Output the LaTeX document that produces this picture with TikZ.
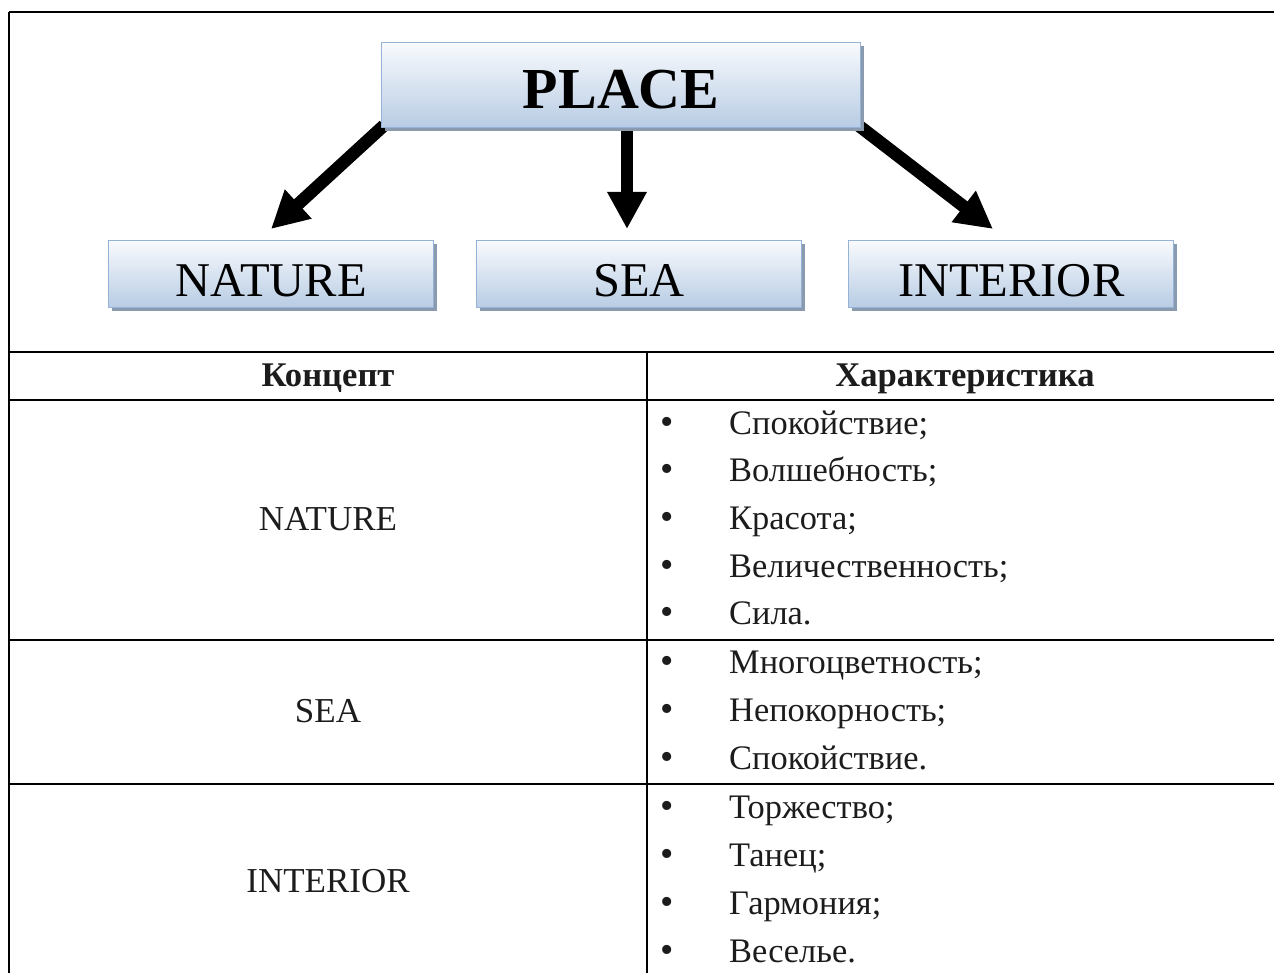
\documentclass[tikz,border=0pt]{standalone}
\usepackage{fontspec}
\setmainfont{Liberation Serif}
\usetikzlibrary{arrows.meta,shadows,calc,backgrounds}
\definecolor{boxborder}{HTML}{95B3D7}
\definecolor{boxtop}{HTML}{F8FAFD}
\definecolor{boxbot}{HTML}{B8CCE4}
\definecolor{shadowc}{HTML}{8A9BB0}
\definecolor{txt}{HTML}{1C1C1C}
\tikzset{
  conceptbox/.style={draw=boxborder, line width=1.4pt, top color=boxtop, bottom color=boxbot,
    inner sep=0pt, anchor=north west, align=center,
    drop shadow={shadow xshift=3pt, shadow yshift=-3pt, fill=shadowc, opacity=1}},
  smallbox/.style={conceptbox, minimum width=325pt, text height=56pt, text depth=11pt,
    font=\fontsize{48.5}{50}\selectfont},
  bigarrow/.style={line width=12.6pt, -{Triangle[length=37pt,width=37pt]}},
  tline/.style={line width=2.9pt},
  celltext/.style={inner sep=0pt, anchor=base, text=txt, font=\fontsize{35}{40}\selectfont},
  headtext/.style={inner sep=0pt, anchor=base, text=txt, font=\fontsize{34.6}{40}\selectfont\bfseries},
  bullet/.style={inner sep=0pt, anchor=base, text=txt, font=\fontsize{38}{40}\selectfont},
  itemtext/.style={inner sep=0pt, anchor=base west, text=txt, font=\fontsize{34.4}{40}\selectfont},
}
\begin{document}
\begin{tikzpicture}[x=1pt,y=-1pt]
\useasboundingbox (0,0) rectangle (1274,973);
% table and frame
\draw[tline] (9,12) -- (1280,12);
\draw[tline] (9,12) -- (9,980);
\draw[tline] (9,352) -- (1280,352);
\draw[tline] (9,400) -- (1280,400);
\draw[tline] (9,640) -- (1280,640);
\draw[tline] (9,784) -- (1280,784);
\draw[tline] (647,352) -- (647,980);
% arrow tips
\coordinate (tl) at (271,229);
\coordinate (tm) at (627,229);
\coordinate (tr) at (993,229);
% boxes
\path (381,42) node[conceptbox, minimum width=479pt, text height=66pt, text depth=19pt,
  font=\fontsize{58}{60}\selectfont\bfseries] (place) {PLACE};
\begin{scope}[on background layer]
\draw[bigarrow] ($(place.south west)+(3,-3)$) -- (tl);
\draw[bigarrow] (tm |- place.south) -- (tm);
\draw[bigarrow] ($(place.south east)+(-3,-3)$) -- (tr);
\end{scope}
\path (108,240) node[smallbox] (nature) {NATURE};
\path (476,240) node[smallbox] (sea) {SEA};
\path (848,240) node[smallbox] (interior) {INTERIOR};
% header
\node[headtext] (h1) at (328,387) {Концепт};
\node[headtext] (h2) at (965,387) {Характеристика};
% concepts
\node[celltext] (c1) at (328,530) {NATURE};
\node[celltext] (c2) at (328,722) {SEA};
\node[celltext] (c3) at (328,892) {INTERIOR};
% items
\foreach \yy/\t [count=\i] in {434/Спокойствие;, 481/Волшебность;, 529/Красота;, 577/Величественность;, 624/Сила.,
  673/Многоцветность;, 721/Непокорность;, 769/Спокойствие.,
  818/Торжество;, 866/Танец;, 914/Гармония;, 962/Веселье.}{
  \node[bullet] (bu\i) at (667,\yy) {•};
  \node[itemtext] (it\i) at (729,\yy) {\t};
}
\end{tikzpicture}
\end{document}
